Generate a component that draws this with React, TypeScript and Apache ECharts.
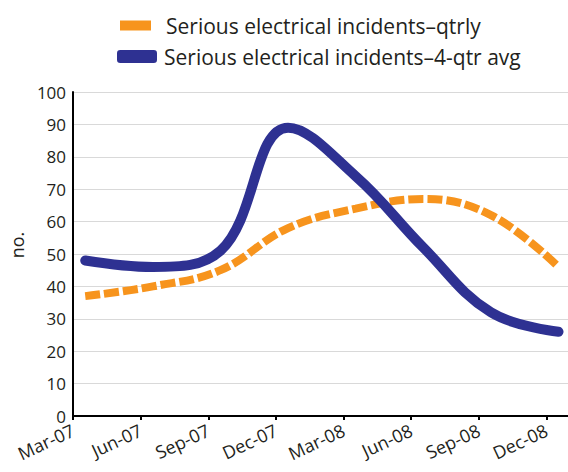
import React, { useEffect, useRef } from "react";
import * as echarts from "echarts";

const categories = ["Mar-07", "Jun-07", "Sep-07", "Dec-07", "Mar-08", "Jun-08", "Sep-08", "Dec-08"];
const qtrly = [37, 40, 45, 58, 64, 67, 62, 46];
const avg4 = [48, 46, 51, 89, 74, 52, 32, 26];
const seriesNames = ["Serious electrical incidents–qtrly", "Serious electrical incidents–4-qtr avg"];
const yMin = 0;
const yMax = 100;
const yStep = 10;

const FONT = "Open Sans";
const DATA_OFFSET = 0.18;
const X_MAX = 7.32;

export default function App() {
  const ref = useRef<HTMLDivElement>(null);
  useEffect(() => {
    if (!ref.current) return;
    const chart = echarts.init(ref.current, null, { renderer: "svg" });
    const tickValues = categories.map((_, i) => i);
    chart.setOption({
      animation: false,
      backgroundColor: "#ffffff",
      textStyle: { fontFamily: FONT },
      legend: [
        {
          data: [{ name: seriesNames[0], icon: "rect" }],
          left: 120,
          top: 15,
          padding: 0,
          itemWidth: 31,
          itemHeight: 10,
          textStyle: { fontFamily: FONT, fontSize: 21, color: "#231f20", padding: [0, 0, 0, 10] },
          selectedMode: false,
        },
        {
          data: [{ name: seriesNames[1], icon: "roundRect" }],
          left: 117,
          top: 46,
          padding: 0,
          itemWidth: 40,
          itemHeight: 13,
          textStyle: { fontFamily: FONT, fontSize: 21, color: "#231f20", padding: [0, 0, 0, 2] },
          selectedMode: false,
        },
      ],
      grid: { left: 70, right: 0, top: 92, bottom: 56, containLabel: false },
      xAxis: {
        type: "value",
        min: 0,
        max: X_MAX,
        interval: 1,
        splitLine: { show: false },
        axisLine: { show: true, lineStyle: { color: "#000000", width: 2 } },
        axisTick: { show: true, length: 4, lineStyle: { color: "#000000", width: 2 }, customValues: tickValues },
        axisLabel: {
          customValues: tickValues,
          formatter: (v: number) => categories[Math.round(v)] ?? "",
          rotate: 25,
          fontFamily: FONT,
          fontSize: 18,
          color: "#231f20",
          margin: 13,
        },
      },
      yAxis: {
        type: "value",
        min: yMin,
        max: yMax,
        interval: yStep,
        name: "no.",
        nameLocation: "middle",
        nameGap: 42,
        nameTextStyle: { fontFamily: FONT, fontSize: 18, color: "#231f20", padding: [0, 0, 0, 18] },
        axisLine: { show: true, lineStyle: { color: "#000000", width: 2 } },
        axisTick: { show: false },
        axisLabel: { fontFamily: FONT, fontSize: 17, color: "#231f20", margin: 7 },
        splitLine: { show: true, lineStyle: { color: "#d9d9d9", width: 1 } },
      },
      series: [
        {
          name: seriesNames[0],
          type: "line",
          smooth: 0.4,
          showSymbol: false,
          symbol: "none",
          color: "#f7941d",
          lineStyle: { color: "#f7941d", width: 8, type: [15, 4], cap: "butt" },
          itemStyle: { color: "#f7941d" },
          data: qtrly.map((v, i) => [i + DATA_OFFSET, v]),
          z: 2,
        },
        {
          name: seriesNames[1],
          type: "line",
          smooth: 0.4,
          showSymbol: false,
          symbol: "none",
          color: "#2e3192",
          lineStyle: { color: "#2e3192", width: 10, cap: "round", join: "round" },
          itemStyle: { color: "#2e3192" },
          data: avg4.map((v, i) => [i + DATA_OFFSET, v]),
          z: 3,
        },
      ],
    });
    return () => chart.dispose();
  }, []);
  return <div ref={ref} style={{ width: 568, height: 472, position: "absolute", left: 0, top: 0 }} />;
}
